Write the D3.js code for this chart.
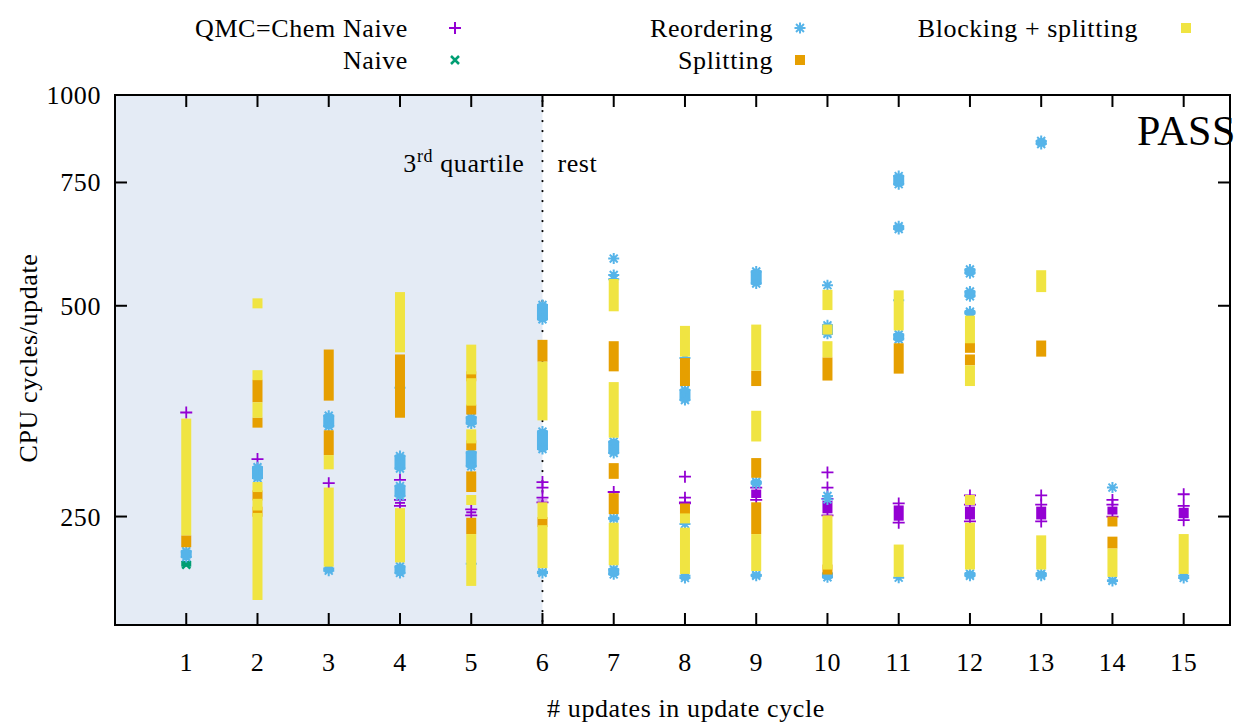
<!DOCTYPE html>
<meta charset="utf-8">
<script src="https://cdn.jsdelivr.net/npm/d3@7"></script>
<style>
  body { margin: 0; background: #fff; }
  svg text { font-family: "Liberation Serif", "DejaVu Serif", serif; fill: #000; letter-spacing: 0.6px; }
</style>
<svg width="1246" height="722"></svg>
<script>

// ---------------- data ----------------
// each entry: [update count, low value, high value] in CPU cycles/update
// (low == high is a single point)
const xTicks = d3.range(1, 16)
const yTicks = [250, 500, 750, 1000]

const qmcChemNaive = [
  [1, 352, 352], [2, 302, 302], [3, 279, 279],
  [4, 282, 282], [4, 259, 264], [5, 251, 256],
  [6, 280, 280], [6, 275, 275], [6, 262, 266],
  [7, 271, 271], [8, 285, 285], [8, 266, 266], [8, 261, 262],
  [9, 264, 275], [10, 289, 289], [10, 275, 275], [10, 251, 265],
  [11, 245, 261], [12, 268, 268], [12, 246, 260],
  [13, 268, 268], [13, 246, 260], [14, 264, 264], [14, 250, 260],
  [15, 269, 269], [15, 247, 259]
]

const naive = [
  [1, 212, 216]
]

const reordering = [
  [1, 216, 226], [2, 280, 298], [3, 332, 353], [3, 208, 212],
  [4, 382, 382], [4, 289, 309], [4, 264, 280], [4, 205, 215],
  [5, 335, 351], [5, 291, 313], [5, 214, 214],
  [6, 472, 508], [6, 308, 335], [6, 205, 211],
  [7, 584, 584], [7, 546, 553], [7, 304, 324], [7, 245, 252], [7, 204, 213],
  [8, 421, 421], [8, 362, 384], [8, 244, 244], [8, 203, 207],
  [9, 531, 567], [9, 275, 284], [9, 203, 209],
  [10, 535, 535], [10, 450, 475], [10, 264, 268], [10, 202, 210],
  [11, 736, 776], [11, 635, 658], [11, 509, 509], [11, 442, 461], [11, 204, 205],
  [12, 549, 571], [12, 509, 531], [12, 481, 497], [12, 203, 210],
  [13, 840, 871], [13, 203, 210],
  [14, 275, 275], [14, 200, 205],
  [15, 203, 207]
]

const splitting = [
  [1, 226, 235],
  [2, 364, 392], [2, 335, 346], [2, 265, 271], [2, 253, 255],
  [3, 366, 433], [3, 306, 332],
  [4, 346, 426],
  [5, 394, 399], [5, 351, 360], [5, 314, 318], [5, 271, 290], [5, 236, 249],
  [6, 416, 447], [6, 243, 248],
  [7, 403, 445], [7, 283, 298], [7, 252, 270],
  [8, 384, 421], [8, 252, 261],
  [9, 384, 404], [9, 284, 303], [9, 236, 262],
  [10, 391, 422], [10, 210, 210],
  [11, 400, 442],
  [12, 429, 442], [12, 411, 426],
  [13, 423, 446],
  [14, 242, 250], [14, 225, 234]
]

const blockingSplitting = [
  [1, 235, 345],
  [2, 504, 504], [2, 392, 404], [2, 346, 364], [2, 271, 280], [2, 255, 265], [2, 190, 253],
  [3, 292, 306], [3, 212, 275],
  [4, 429, 523], [4, 215, 257],
  [5, 399, 440], [5, 360, 394], [5, 318, 333], [5, 260, 268], [5, 199, 236],
  [6, 343, 416], [6, 248, 262], [6, 211, 243],
  [7, 491, 546], [7, 324, 389], [7, 213, 245],
  [8, 423, 468], [8, 245, 252], [8, 207, 241],
  [9, 404, 470], [9, 320, 354], [9, 209, 236],
  [10, 493, 527], [10, 455, 470], [10, 422, 445], [10, 210, 251],
  [11, 461, 526], [11, 205, 228],
  [12, 442, 484], [12, 384, 411], [12, 261, 267], [12, 210, 245],
  [13, 523, 562], [13, 210, 235],
  [14, 205, 225],
  [15, 207, 236]
]

const colors = {
  qmc: "#9400d3",
  naive: "#009e73",
  reorder: "#56b4e9",
  split: "#e69f00",
  block: "#f0e442"
}

// ---------------- setup ----------------
const svg = d3.select("svg")
const margin = {left: 115, right: 1230, top: 95, bottom: 625}
const FONT = "'Liberation Serif', 'DejaVu Serif', serif"

const x = d3.scaleLinear().domain([0, 15.65]).range([margin.left, margin.right])
const y = d3.scaleLog().domain([175, 1000]).range([margin.bottom, margin.top])

function label(parent, px, py, size, anchor) {
  return parent.append("text")
    .attr("x", px).attr("y", py)
    .attr("font-family", FONT)
    .attr("font-size", size)
    .attr("text-anchor", anchor || "start")
}

// shaded "3rd quartile" region
svg.append("rect")
  .attr("x", x(0)).attr("y", margin.top)
  .attr("width", x(6) - x(0)).attr("height", margin.bottom - margin.top)
  .attr("fill", "#e4ebf5")

svg.append("line")
  .attr("x1", x(6)).attr("x2", x(6))
  .attr("y1", margin.top + 6).attr("y2", margin.bottom)
  .attr("stroke", "#000").attr("stroke-width", 2.2)
  .attr("stroke-linecap", "round")
  .attr("stroke-dasharray", "0.1,9.9")

label(svg, x(6) - 18, 172, 26, "end")
  .html('3<tspan dy="-10" font-size="18">rd</tspan><tspan dy="10"> quartile</tspan>')
label(svg, x(6) + 15, 172, 26).text("rest")

// ---------------- marks ----------------
const plot = svg.append("g")
const W = 10

function asterisk(cx, cy, r) {
  const d = r * 0.72
  return `M${cx - r},${cy}H${cx + r}M${cx},${cy - r}V${cy + r}` +
    `M${cx - d},${cy - d}L${cx + d},${cy + d}M${cx - d},${cy + d}L${cx + d},${cy - d}`
}
function plus(cx, cy, r) {
  return `M${cx - r},${cy}H${cx + r}M${cx},${cy - r}V${cy + r}`
}
function cross(cx, cy, r) {
  return `M${cx - r},${cy - r}L${cx + r},${cy + r}M${cx - r},${cy + r}L${cx + r},${cy - r}`
}

// purple plus markers
const gq = plot.append("g")
qmcChemNaive.forEach(([u, lo, hi]) => {
  const cx = x(u), y0 = y(hi), y1 = y(lo)
  if (y1 - y0 > 1) {
    gq.append("rect").attr("x", cx - W / 2).attr("y", y0 + 2)
      .attr("width", W).attr("height", y1 - y0 - 4).attr("fill", colors.qmc)
  }
  gq.append("path").attr("d", plus(cx, y0, 6) + plus(cx, y1, 6))
    .attr("stroke", colors.qmc).attr("stroke-width", 1.8).attr("fill", "none")
})

// green crosses
const gn = plot.append("g")
naive.forEach(([u, lo, hi]) => {
  const cx = x(u)
  gn.append("rect").attr("x", cx - W / 2).attr("y", y(hi))
    .attr("width", W).attr("height", y(lo) - y(hi)).attr("fill", colors.naive)
  gn.append("path").attr("d", cross(cx, y(lo) - 2, 4))
    .attr("stroke", colors.naive).attr("stroke-width", 2.5).attr("fill", "none")
})

// blue asterisks
const gr = plot.append("g")
reordering.forEach(([u, lo, hi]) => {
  const cx = x(u), y0 = y(hi), y1 = y(lo)
  if (y1 - y0 > 3) {
    gr.append("rect").attr("x", cx - 5.5).attr("y", y0 + 2)
      .attr("width", 11).attr("height", y1 - y0 - 4).attr("rx", 3)
      .attr("fill", colors.reorder)
    gr.append("path").attr("d", asterisk(cx, y0 + 4, 5.5) + asterisk(cx, y1 - 4, 5.5))
      .attr("stroke", colors.reorder).attr("stroke-width", 2).attr("fill", "none")
  } else {
    gr.append("path").attr("d", asterisk(cx, (y0 + y1) / 2, 5.5))
      .attr("stroke", colors.reorder).attr("stroke-width", 2).attr("fill", "none")
  }
})

// square strips (splitting, blocking + splitting)
function squares(data, color) {
  const g = plot.append("g")
  g.selectAll("rect").data(data).join("rect")
    .attr("x", d => x(d[0]) - W / 2)
    .attr("y", d => {
      const y0 = y(d[2]), y1 = y(d[1])
      return y1 - y0 < W ? (y0 + y1) / 2 - W / 2 : y0
    })
    .attr("width", W)
    .attr("height", d => Math.max(y(d[1]) - y(d[2]), W))
    .attr("fill", color)
}
squares(splitting, colors.split)
squares(blockingSplitting, colors.block)

// ---------------- frame and axes ----------------
const axes = svg.append("g").attr("stroke", "#000").attr("stroke-width", 2)
axes.append("rect")
  .attr("x", margin.left).attr("y", margin.top)
  .attr("width", margin.right - margin.left).attr("height", margin.bottom - margin.top)
  .attr("fill", "none")

xTicks.forEach(t => {
  axes.append("line").attr("x1", x(t)).attr("x2", x(t))
    .attr("y1", margin.bottom).attr("y2", margin.bottom - 12)
  axes.append("line").attr("x1", x(t)).attr("x2", x(t))
    .attr("y1", margin.top).attr("y2", margin.top + 12)
})
yTicks.forEach(t => {
  axes.append("line").attr("x1", margin.left).attr("x2", margin.left + 12)
    .attr("y1", y(t)).attr("y2", y(t))
  axes.append("line").attr("x1", margin.right).attr("x2", margin.right - 12)
    .attr("y1", y(t)).attr("y2", y(t))
})

xTicks.forEach(t => label(svg, x(t), 671, 26, "middle").text(t))
yTicks.forEach(t => label(svg, 101, y(t) + 9, 26, "end").text(t))

label(svg, 686, 717, 26, "middle").text("# updates in update cycle")

label(svg, 0, 0, 26, "middle")
  .attr("transform", "translate(37,358) rotate(-90)")
  .text("CPU cycles/update")

label(svg, 1236, 145, 42, "end").text("PASS")

// ---------------- legend ----------------
const legend = [
  {label: "QMC=Chem Naive", tx: 408, ty: 37, mx: 455, my: 28, kind: "plus", color: colors.qmc},
  {label: "Naive", tx: 408, ty: 69, mx: 455, my: 60, kind: "cross", color: colors.naive},
  {label: "Reordering", tx: 773, ty: 37, mx: 800, my: 28, kind: "star", color: colors.reorder},
  {label: "Splitting", tx: 773, ty: 69, mx: 800, my: 60, kind: "square", color: colors.split},
  {label: "Blocking + splitting", tx: 1138, ty: 37, mx: 1186, my: 28, kind: "square", color: colors.block}
]
legend.forEach(l => {
  label(svg, l.tx, l.ty, 26, "end").text(l.label)
  if (l.kind === "square") {
    svg.append("rect").attr("x", l.mx - 5).attr("y", l.my - 5)
      .attr("width", 10).attr("height", 10).attr("fill", l.color)
  } else {
    const d = l.kind === "plus" ? plus(l.mx, l.my, 6)
      : l.kind === "cross" ? cross(l.mx, l.my, 4) : asterisk(l.mx, l.my, 5.5)
    svg.append("path").attr("d", d).attr("stroke", l.color)
      .attr("stroke-width", l.kind === "cross" ? 2.5 : 2).attr("fill", "none")
  }
})
</script>
